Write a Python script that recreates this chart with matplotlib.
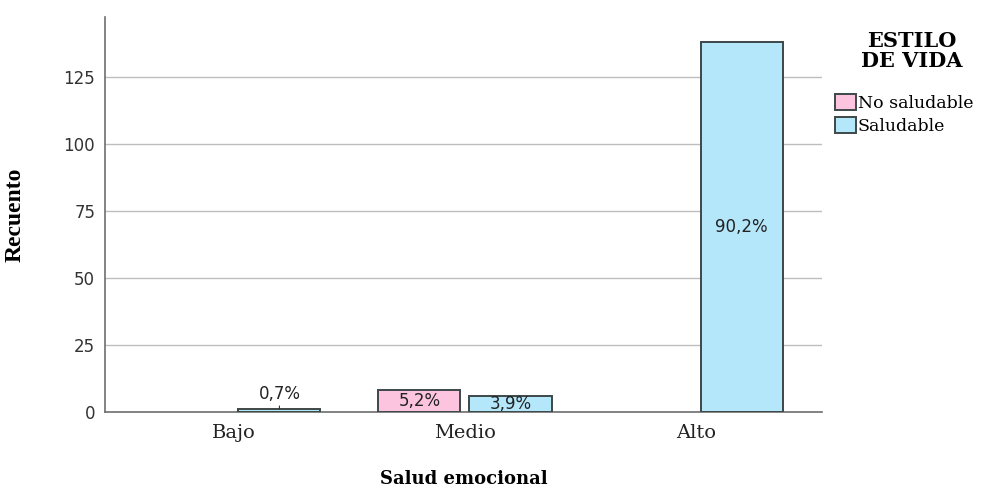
import numpy as np
import matplotlib.pyplot as plt
from matplotlib.patches import Patch

# Data
categories = ["Bajo", "Medio", "Alto"]
series = ["No saludable", "Saludable"]
no_saludable = [0, 8, 0]
saludable = [1, 6, 138]
total = sum(no_saludable) + sum(saludable)
colors = ["#fcc4de", "#b5e7fb"]
edge = "#3d4747"

fig = plt.figure(figsize=(9.92, 4.9), dpi=100)
ax = fig.add_axes([0.1058, 0.160, 0.7228, 0.805])

x = np.arange(len(categories))
w = 0.355
off = 0.197
for vals, col, dx in [(no_saludable, colors[0], -off), (saludable, colors[1], off)]:
    for xi, v in zip(x, vals):
        if v == 0:
            continue
        ax.bar(xi + dx, v, width=w, color=col, edgecolor=edge, linewidth=1.4, zorder=3)
        pct = f"{v / total * 100:.1f}%".replace(".", ",")
        if v < 3:
            ax.annotate(pct, xy=(xi + dx, v), xytext=(xi + dx, v + 5.5),
                        ha="center", va="center", fontsize=12, family="DejaVu Sans",
                        color="#222222",
                        arrowprops=dict(arrowstyle="-", color="#333333", lw=0.8,
                                        shrinkA=3, shrinkB=0), zorder=4)
        else:
            ax.text(xi + dx, v / 2, pct, ha="center", va="center", fontsize=12,
                    family="DejaVu Sans", color="#222222", zorder=4)

ax.set_xlim(-0.558, 2.545)
ax.set_ylim(0, 147.4)
ax.set_yticks([0, 25, 50, 75, 100, 125])
ax.set_xticks(x)
ax.set_xticklabels(categories, family="DejaVu Serif", fontsize=14)
ax.tick_params(axis="y", labelsize=12, length=0, pad=7, colors="#333333")
ax.tick_params(axis="x", length=0, pad=9, colors="#222222")
ax.yaxis.grid(True, color="#bdbdbd", linewidth=1, zorder=0)
ax.set_axisbelow(True)
for s in ["top", "right"]:
    ax.spines[s].set_visible(False)
for s in ["left", "bottom"]:
    ax.spines[s].set_color("#6e6e6e")
    ax.spines[s].set_linewidth(1.2)

ax.set_xlabel("Salud emocional", family="DejaVu Serif", fontweight="bold",
              fontsize=13, labelpad=20)
ax.set_ylabel("Recuento", family="Liberation Serif", fontweight="bold", fontsize=17)
ax.yaxis.set_label_coords(-0.11, 0.5)

# Legend (title placed separately, entries below)
fig.text(912 / 992, 1 - 31 / 490, "ESTILO\nDE VIDA", ha="center", va="top",
         family="DejaVu Serif", fontweight="bold", fontsize=15, linespacing=1.0)
handles = [Patch(facecolor=c, edgecolor=edge, linewidth=1.4) for c in colors]
leg = fig.legend(handles, series, loc="upper left",
                 bbox_to_anchor=(823 / 992, 1 - 82 / 490), frameon=False,
                 prop={"family": "DejaVu Serif", "size": 12.5},
                 handlelength=1.2, handleheight=1.05, handletextpad=0.1,
                 labelspacing=0.3, borderpad=0.2)

plt.savefig("out.png", dpi=100)
